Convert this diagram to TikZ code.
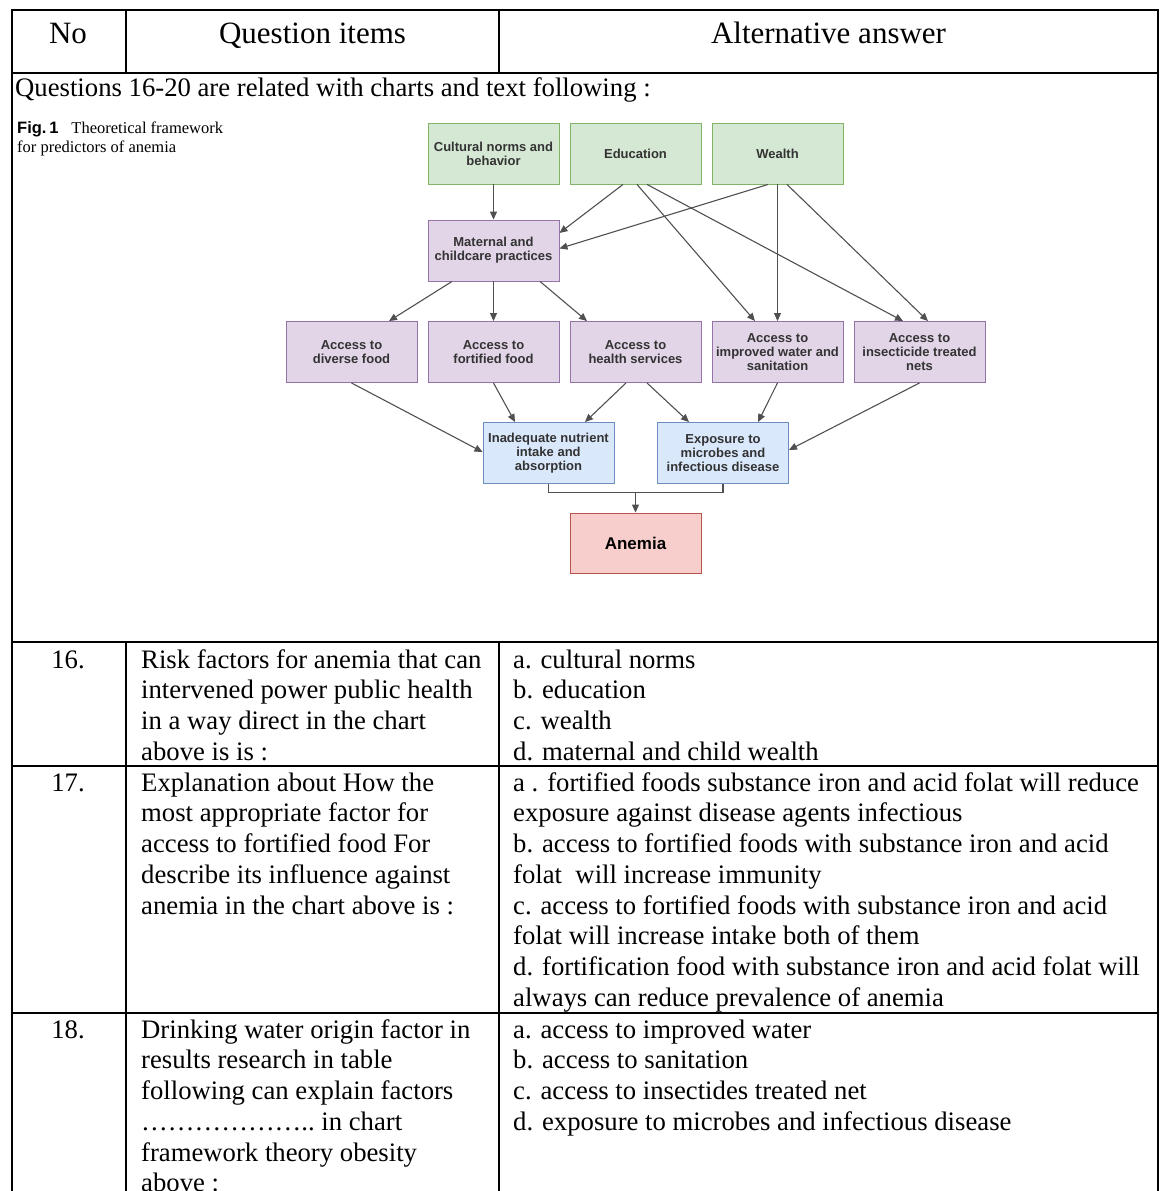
\documentclass[tikz,border=0pt]{standalone}
\usepackage{fontspec}
\setmainfont{Liberation Serif}
\setsansfont{Liberation Sans}
\usetikzlibrary{arrows.meta}

\definecolor{grnfill}{HTML}{D5E8D4}
\definecolor{grnline}{HTML}{82B366}
\definecolor{purfill}{HTML}{E1D5E7}
\definecolor{purline}{HTML}{9673A6}
\definecolor{blufill}{HTML}{DAE8FC}
\definecolor{bluline}{HTML}{6C8EBF}
\definecolor{redfill}{HTML}{F8CECC}
\definecolor{redline}{HTML}{B85450}
\definecolor{edgegray}{HTML}{505050}
\definecolor{boxtext}{HTML}{333333}

\begin{document}
\begin{tikzpicture}[x=1pt, y=-1pt,
    body/.style={font=\fontsize{26.7}{30.7}\selectfont, inner sep=0pt, align=left},
    head/.style={font=\fontsize{31}{35}\selectfont, inner sep=0pt, anchor=base},
    ans/.style={body, anchor=north west},
    qst/.style={body, anchor=north west},
    num/.style={body, anchor=north},
    bx/.style={rectangle, draw, line width=0.9pt, minimum width=131pt,
               minimum height=61pt, inner sep=2pt, align=center, text=boxtext,
               font=\sffamily\bfseries\fontsize{13}{14}\selectfont},
    grn/.style={bx, fill=grnfill, draw=grnline},
    pur/.style={bx, fill=purfill, draw=purline},
    blu/.style={bx, fill=blufill, draw=bluline},
    rd/.style={bx, fill=redfill, draw=redline, minimum height=60pt, text=black,
               font=\sffamily\bfseries\fontsize{17}{20}\selectfont},
    e/.style={draw=edgegray, line width=1.1pt, -{Triangle[length=8pt, width=7pt]}},
    ln/.style={draw=edgegray, line width=1.1pt},
    rule/.style={line width=2pt},
  ]
  \useasboundingbox (0,0) rectangle (1162,1191);
  \clip (0,0) rectangle (1162,1191);

  \draw[rule] (11.5,1200) -- (11.5,10) -- (1158,10) -- (1158,1200);
  \draw[rule] (11.5,73) -- (1158,73);
  \draw[rule] (126,10) -- (126,73);
  \draw[rule] (499,10) -- (499,73);
  \draw[rule] (11.5,642) -- (1158,642);
  \draw[rule] (11.5,766) -- (1158,766);
  \draw[rule] (11.5,1013) -- (1158,1013);
  \draw[rule] (126,642) -- (126,1200);
  \draw[rule] (499,642) -- (499,1200);

  \node[head] (hno) at (68,43) {No};
  \node[head] (hq) at (312.5,43) {Question items};
  \node[head] (ha) at (828.5,43) {Alternative answer};

  \node[body, anchor=base west] (intro) at (15,96)
    {Questions 16-20 are related with charts and text following :};
  \node[anchor=north west, inner sep=0pt, align=left,
        font=\fontsize{16.5}{19}\selectfont] (cap) at (17,119.5)
    {\strut{\sffamily\bfseries Fig.\,1}\hspace{13pt}Theoretical framework\\for predictors of anemia};

  \node[grn] (cult) at (493.5,153.5) {Cultural norms and\\behavior};
  \node[grn] (edu) at (635.5,153.5) {Education};
  \node[grn] (wlth) at (777.5,153.5) {Wealth};
  \node[pur] (mat) at (493.5,250.5) {Maternal and\\childcare practices};
  \node[pur] (divf) at (351.5,352) {Access to\\diverse food};
  \node[pur] (fortf) at (493.5,352) {Access to\\fortified food};
  \node[pur] (hlth) at (635.5,352) {Access to\\health services};
  \node[pur] (watr) at (777.5,352) {Access to\\improved water and\\sanitation};
  \node[pur] (nets) at (919.5,352) {Access to\\insecticide treated\\nets};
  \node[blu] (inad) at (548.5,453) {Inadequate nutrient\\intake and\\absorption};
  \node[blu] (expo) at (723,453) {Exposure to\\microbes and\\infectious disease};
  \node[rd] (anem) at (635.5,543) {Anemia};
  \coordinate (jn) at ([yshift=20pt]anem.north);

  \draw[e] (cult.south) -- (mat.north);
  \draw[e] ([xshift=-12.5pt]edu.south) -- ([yshift=17.5pt]mat.east);
  \draw[e] ([xshift=-9.5pt]wlth.south) -- ([yshift=2pt]mat.east);
  \draw[e] ([xshift=1.5pt]edu.south) -- ([xshift=-22.5pt]watr.north);
  \draw[e] ([xshift=11.5pt]edu.south) -- ([xshift=-16.5pt]nets.north);
  \draw[e] (wlth.south) -- (watr.north);
  \draw[e] ([xshift=9.5pt]wlth.south) -- ([xshift=8.5pt]nets.north);
  \draw[e] ([xshift=-41.5pt]mat.south) -- ([xshift=37.5pt]divf.north);
  \draw[e] (mat.south) -- (fortf.north);
  \draw[e] ([xshift=46.5pt]mat.south) -- ([xshift=-48.5pt]hlth.north);
  \draw[e] (divf.south) -- ([yshift=1pt]inad.west);
  \draw[e] (fortf.south) -- ([xshift=-33.5pt]inad.north);
  \draw[e] ([xshift=-9.5pt]hlth.south) -- ([xshift=36.5pt]inad.north);
  \draw[e] ([xshift=11.5pt]hlth.south) -- ([xshift=-34pt]expo.north);
  \draw[e] (watr.south) -- ([xshift=35pt]expo.north);
  \draw[e] (nets.south) -- ([yshift=3pt]expo.east);
  \draw[ln] (inad.south) |- (jn) -| (expo.south);
  \draw[e] (jn) -- (anem.north);

  \node[num] (n16) at (68,646.5) {\strut 16.};
  \node[qst] (q16) at (141,646.5)
    {\strut Risk factors for anemia that can\\intervened power public health\\in a way direct in the chart\\above is is :};
  \node[ans] (a16) at (513,646.5)
    {\strut a. cultural norms\\b. education\\c. wealth\\d. maternal and child wealth};

  \node[num] (n17) at (68,769.5) {\strut 17.};
  \node[qst] (q17) at (141,769.5)
    {\strut Explanation about How the\\most appropriate factor for\\access to fortified food For\\describe its influence against\\anemia in the chart above is :};
  \node[ans] (a17) at (513,769.5)
    {\strut a . fortified foods substance iron and acid folat will reduce\\exposure against disease agents infectious\\b. access to fortified foods with substance iron and acid\\folat\ \ will increase immunity\\c. access to fortified foods with substance iron and acid\\folat will increase intake both of them\\d. fortification food with substance iron and acid folat will\\always can reduce prevalence of anemia};

  \node[num] (n18) at (68,1016.5) {\strut 18.};
  \node[qst] (q18) at (141,1016.5)
    {\strut Drinking water origin factor in\\results research in table\\following can explain factors\\………………..\ in chart\\framework theory obesity\\above :};
  \node[ans] (a18) at (513,1016.5)
    {\strut a. access to improved water\\b. access to sanitation\\c. access to insectides treated net\\d. exposure to microbes and infectious disease};
\end{tikzpicture}
\end{document}
